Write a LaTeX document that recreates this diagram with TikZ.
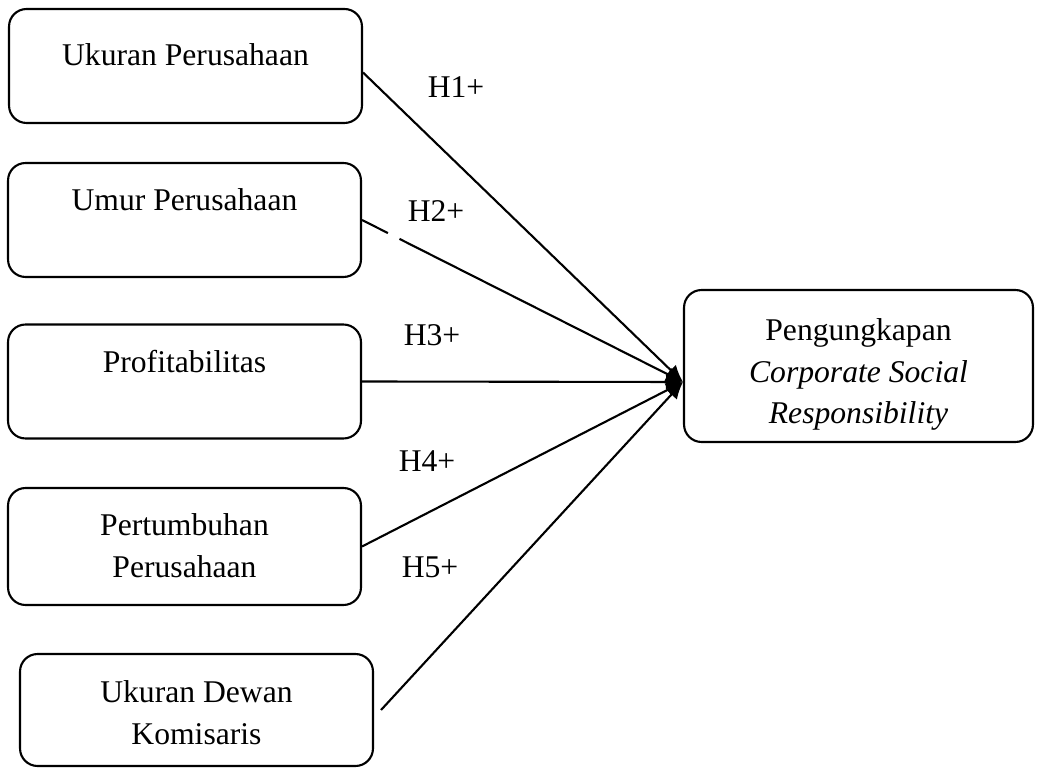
\documentclass[tikz,border=0pt]{standalone}
\usepackage{fontspec}
\setmainfont{Liberation Serif}
\usetikzlibrary{arrows.meta, positioning, calc}
\tikzset{
  varbox/.style={
    draw,
    line width=1.2pt,
    rounded corners=0.35cm,
    minimum width=#1,
    minimum height=2.28cm
  },
  varbox/.default={7.06cm},
%
  boxtext/.style={
    anchor=north,
    inner sep=0pt,
    align=center
  },
%
  hyp/.style={
    draw=#1,
    line width=1.2pt,
    -{Latex[length=0.34cm, width=0.3cm]}
  },
  hyp/.default={black},
%
  hlabel/.style={
    anchor=base,
    inner sep=0pt
  },
}

\begin{document}
\begin{tikzpicture}[x=0.02cm, y=-0.02cm, font=\fontsize{18}{23.8}\selectfont]
\useasboundingbox (0,0) rectangle (1037,776);

\node[varbox] at (185.5,66) (ukuran) {};
\node[varbox] at (184.5,220) (umur) {};
\node[varbox] at (184.5,381.5) (profit) {};
\node[varbox, minimum height=2.34cm] at (184.5,546.5) (tumbuh) {};
\node[varbox, minimum height=2.24cm] at (196.5,710) (dewan) {};
\node[varbox=6.98cm, minimum height=3.04cm] at (858.5,366) (csr) {};

\node[boxtext] at (185.5,43) (ukurantxt) {Ukuran Perusahaan};
\node[boxtext] at (184.5,188) (umurtxt) {Umur Perusahaan};
\node[boxtext] at (184.5,350) (profittxt) {Profitabilitas};
\node[boxtext] at (184.5,513) (tumbuhtxt) {Pertumbuhan\\Perusahaan};
\node[boxtext] at (196.5,680) (dewantxt) {Ukuran Dewan\\Komisaris};
\node[boxtext] at (858.5,318) (csrtxt) {Pengungkapan\\\textit{Corporate Social}\\\textit{Responsibility}};

\coordinate (tip) at ([yshift=-0.32cm]csr.west);
\draw[hyp] ([yshift=-0.13cm]ukuran.east) -- (tip);
\draw[hyp, dash pattern=on 0.58cm off 0.26cm on 20cm] (umur.east) -- (tip);
\draw[hyp] (profit.east) -- (tip);
\draw[hyp] (tumbuh.east) -- (tip);
\draw[hyp] ([xshift=0.14cm]dewan.east) -- (tip);

\node[hlabel] at (456,98) (h1) {H1+};
\node[hlabel] at (436,222) (h2) {H2+};
\node[hlabel] at (432,346) (h3) {H3+};
\node[hlabel] at (427,471) (h4) {H4+};
\node[hlabel] at (430,577) (h5) {H5+};

\end{tikzpicture}
\end{document}
